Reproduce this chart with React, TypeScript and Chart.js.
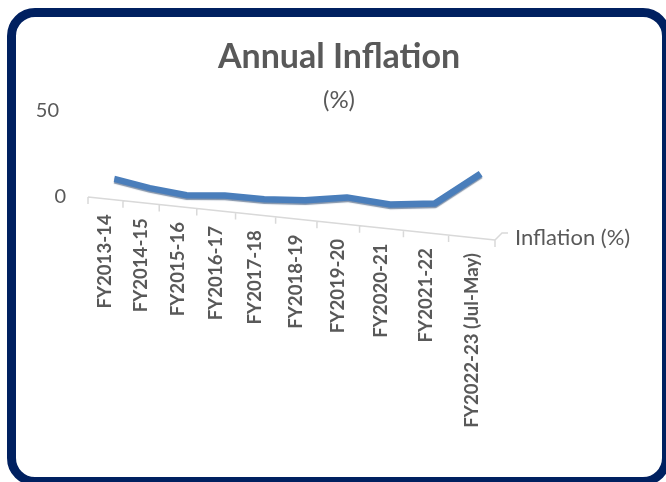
import { useEffect, useRef } from 'react';
import { Chart, registerables, CategoryScale } from 'chart.js';

Chart.register(...registerables);

// ---- data ----
const categories = [
  'FY2013-14',
  'FY2014-15',
  'FY2015-16',
  'FY2016-17',
  'FY2017-18',
  'FY2018-19',
  'FY2019-20',
  'FY2020-21',
  'FY2021-22',
  'FY2022-23 (Jul-May)',
];
const inflation = [9.2, 5.7, 3.5, 5.4, 5.2, 6.7, 10.6, 8.7, 11.6, 31.2];
const valueTicks = [0, 50];
const seriesLabel = 'Inflation (%)';
const titleText = 'Annual Inflation';
const subtitleText = '(%)';

// ---- styling ----
const TEXT = '#595959';
const AXIS = '#D9D9D9';
const RIBBON = '#4A7EBB';
const FONT = 'Lato, "Open Sans", sans-serif';

// the floor recedes: its front edge slopes down to the right
const FLOOR_SLOPE = 0.1057;
// the ribbon sits further back, slightly shifted and with a gentler slope
const SERIES_SLOPE = 0.09;
const RIBBON_DX = 9;
const RIBBON_DY = -2;

// category scale whose spacing widens toward the right, like a receding floor
class PerspectiveScale extends CategoryScale {
  static id = 'perspective';
  static defaults = CategoryScale.defaults;
  getPixelForDecimal(decimal: number) {
    const k = 0.185;
    const d = (decimal + k * decimal * decimal) / (1 + k);
    const self = this as any;
    return self._startPixel + d * self._length;
  }
}
Chart.register(PerspectiveScale as any);

const floorPlugin = {
  id: 'floor3d',
  beforeDatasetsDraw(chart: any) {
    const { ctx, chartArea: a } = chart;
    const x0 = a.left + 20;
    ctx.save();
    ctx.translate(RIBBON_DX, RIBBON_DY);
    ctx.transform(1, SERIES_SLOPE, 0, 1, 0, -SERIES_SLOPE * x0);
    ctx.shadowColor = 'rgba(28, 58, 100, 0.55)';
    ctx.shadowOffsetY = 1.5;
    ctx.shadowBlur = 1;
  },
  afterDatasetsDraw(chart: any) {
    chart.ctx.restore();
  },
  afterDraw(chart: any) {
    const { ctx, chartArea: a, scales } = chart;
    const xs = scales.x;
    const ys = scales.y;
    const floorY = (px: number) => a.bottom + FLOOR_SLOPE * (px - a.left);

    ctx.save();

    // value labels
    ctx.fillStyle = TEXT;
    ctx.font = `20px ${FONT}`;
    ctx.textAlign = 'right';
    ctx.textBaseline = 'middle';
    valueTicks.forEach((v) => {
      const py = ys.getPixelForValue(v);
      ctx.fillText(String(v), a.left - 22 - (7 * v) / 50, py);
    });

    // floor edge with category boundary ticks
    ctx.strokeStyle = AXIS;
    ctx.lineWidth = 1.5;
    ctx.beginPath();
    ctx.moveTo(a.left, floorY(a.left));
    ctx.lineTo(a.right, floorY(a.right));
    for (let i = 0; i <= categories.length; i++) {
      const px = xs.getPixelForValue(i - 0.5);
      ctx.moveTo(px, floorY(px));
      ctx.lineTo(px, floorY(px) + 7);
    }
    // depth axis stub
    const ey = floorY(a.right);
    ctx.moveTo(a.right, ey);
    ctx.lineTo(a.right + 7, ey - 7);
    ctx.lineTo(a.right + 13, ey - 7);
    ctx.stroke();

    // series name on the depth axis
    ctx.font = `22px ${FONT}`;
    ctx.textAlign = 'left';
    ctx.textBaseline = 'middle';
    ctx.fillText(seriesLabel, a.right + 20, ey - 2);

    // rotated category labels
    ctx.font = `bold 18.6px ${FONT}`;
    categories.forEach((label, i) => {
      const cx = xs.getPixelForValue(i);
      const top = floorY(cx) + 15.5;
      ctx.save();
      ctx.translate(cx, top);
      ctx.rotate(-Math.PI / 2);
      ctx.textAlign = 'right';
      ctx.textBaseline = 'middle';
      ctx.fillText(label, 0, 0);
      ctx.restore();
    });

    ctx.restore();
  },
};

export default function App() {
  const ref = useRef<HTMLCanvasElement>(null);

  useEffect(() => {
    const chart = new Chart(ref.current as HTMLCanvasElement, {
      type: 'line',
      data: {
        labels: categories,
        datasets: [
          {
            label: seriesLabel,
            data: inflation,
            borderColor: RIBBON,
            borderWidth: 6.5,
            pointRadius: 0,
            tension: 0,
            clip: false as any,
            borderCapStyle: 'butt',
            borderJoinStyle: 'round',
          },
        ],
      },
      options: {
        responsive: false,
        animation: false,
        events: [],
        layout: { padding: { left: 12, right: 0, top: 0, bottom: 285 } },
        plugins: {
          legend: { display: false },
          tooltip: { enabled: false },
          title: {
            display: true,
            text: titleText,
            color: TEXT,
            font: { family: FONT, size: 34, weight: 'bold', lineHeight: 1 },
            padding: { top: 40, bottom: 0 },
          },
          subtitle: {
            display: true,
            text: subtitleText,
            color: TEXT,
            font: { family: FONT, size: 24, lineHeight: 0.9 },
            padding: { top: 15, bottom: 0 },
          },
        },
        scales: {
          x: {
            type: 'perspective' as any,
            offset: true,
            display: false,
          },
          y: {
            type: 'linear',
            position: 'left',
            min: 0,
            max: 50,
            ticks: { display: false },
            grid: { display: false },
            border: { display: false },
            afterFit: (s: any) => {
              s.width = 76;
            },
          },
          yRight: {
            type: 'linear',
            position: 'right',
            ticks: { display: false },
            grid: { display: false },
            border: { display: false },
            afterFit: (s: any) => {
              s.width = 171;
            },
          },
        },
      },
      plugins: [floorPlugin],
    });
    return () => chart.destroy();
  }, []);

  return (
    <div
      style={{
        position: 'fixed',
        left: 0,
        top: 0,
        width: 666,
        height: 482,
        background: '#ffffff',
        overflow: 'hidden',
      }}
    >
      <canvas ref={ref} width={666} height={482} style={{ display: 'block' }} />
      <div
        style={{
          position: 'absolute',
          left: 7,
          top: 8,
          width: 664,
          height: 478,
          border: '9px solid #002060',
          borderRadius: 28,
          boxSizing: 'border-box',
          pointerEvents: 'none',
        }}
      />
    </div>
  );
}
